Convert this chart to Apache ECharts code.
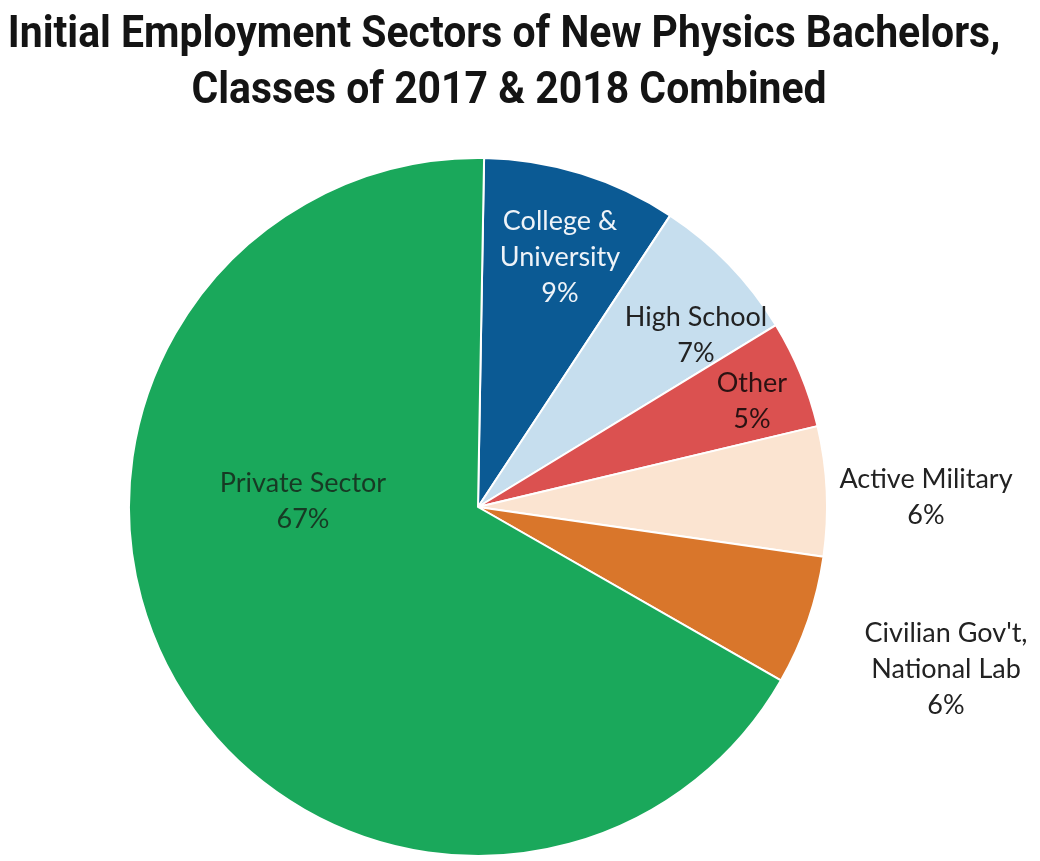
<!DOCTYPE html>
<html>
<head>
<meta charset="utf-8">
<script src="https://cdn.jsdelivr.net/npm/echarts@6/dist/echarts.min.js"></script>
<style>
html,body{margin:0;padding:0;background:#fff;}
#chart{width:1040px;height:861px;}
</style>
</head>
<body>
<div id="chart"></div>
<script>
const titleLines = ["Initial Employment Sectors of New Physics Bachelors,", "Classes of 2017 & 2018 Combined"];
const categories = ["College &\nUniversity", "High School", "Other", "Active Military", "Civilian Gov't,\nNational Lab", "Private Sector"];
const values = [9, 7, 5, 6, 6, 67];
const colors = ["#0b5a94", "#c6deee", "#db5150", "#fbe4d1", "#d9762b", "#1aa85b"];
const labelColors = ["#eef3f8", "#222222", "#2a1212", "#222222", "#222222", "#173a24"];
const labelOffsets = [[82, -250], [218, -172], [274, -106], [448, -10], [468, 162], [-175, -6]];

const chart = echarts.init(document.getElementById('chart'));
const data = categories.map((c, i) => ({
  name: c,
  value: values[i],
  itemStyle: { color: colors[i] },
  label: { color: labelColors[i], offset: labelOffsets[i] }
}));

const titleFont = "bold 44px Roboto, 'DejaVu Sans Condensed', sans-serif";

chart.setOption({
  animation: false,
  backgroundColor: '#ffffff',
  graphic: [
    { type: 'text', x: 504, y: 36, scaleX: 0.93, style: { text: titleLines[0], font: titleFont, fill: '#141414', align: 'center', verticalAlign: 'middle' } },
    { type: 'text', x: 509, y: 92, scaleX: 0.93, style: { text: titleLines[1], font: titleFont, fill: '#141414', align: 'center', verticalAlign: 'middle' } }
  ],
  series: [{
    type: 'pie',
    center: [478, 507],
    radius: [0, 349],
    startAngle: 89,
    clockwise: true,
    avoidLabelOverlap: false,
    labelLayout: { hideOverlap: false },
    data: data,
    itemStyle: { borderColor: '#ffffff', borderWidth: 2 },
    label: {
      show: true,
      position: 'center',
      formatter: p => p.name + '\n' + p.value + '%',
      fontFamily: "Lato, 'Open Sans', sans-serif",
      fontSize: 27,
      lineHeight: 36,
      align: 'center'
    },
    labelLine: { show: false },
    emphasis: { disabled: true }
  }]
});
</script>
</body>
</html>
